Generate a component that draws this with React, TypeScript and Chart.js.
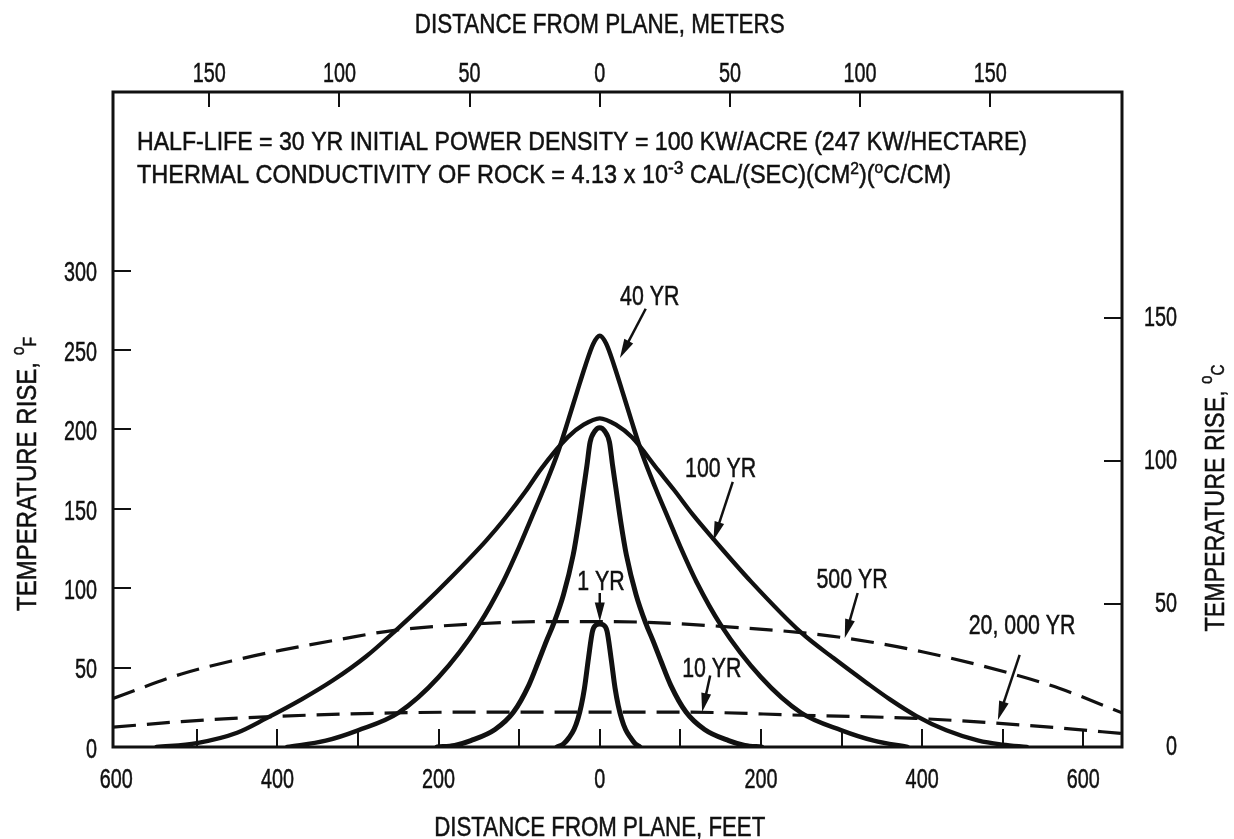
import React, { useEffect, useRef } from "react";
import { Chart, registerables } from "chart.js";

Chart.register(...registerables);

// ---- axis ranges / conversions ----
const FT_MIN = -604;
const FT_MAX = 648;
const DEGF_MAX = 412.5;
const FT_PER_M = 3.23;
const DEGF_PER_DEGC = 1.8;

// ---- tick values ----
const BOTTOM_TICKS_FT = [-500, -400, -300, -200, -100, 0, 100, 200, 300, 400, 500, 600];
const BOTTOM_LABELS_FT = [-600, -400, -200, 0, 200, 400, 600];
const TOP_TICKS_M = [-150, -100, -50, 0, 50, 100, 150];
const LEFT_TICKS_F = [50, 100, 150, 200, 250, 300];
const LEFT_LABELS_F = [0, 50, 100, 150, 200, 250, 300];
const RIGHT_TICKS_C = [50, 100, 150];
const RIGHT_LABELS_C = [0, 50, 100, 150];

// ---- series: distance from plane (ft) and temperature rise (deg F) ----
const YR1_FT = [-53, -45, -38, -32, -27, -23, -19, -14, -9, -4, 0, 4, 9, 14, 19, 23, 27, 32, 38, 44, 50];
const YR1_F = [0, 2, 6, 11, 18, 26, 37, 56, 73, 77, 77.5, 77, 73, 56, 37, 26, 18, 11, 6, 2, 0];

const YR10_FT = [-202, -180, -160, -130, -107, -88, -76, -66, -57, -45, -33, -26, -20, -16, -12, -6, 0, 6, 12, 16, 20, 26, 33, 45, 57, 66, 76, 88, 107, 130, 160, 180, 201];
const YR10_F = [0, 1, 4, 11, 22, 39, 54, 67, 78, 96, 121, 142, 163, 177, 192, 199, 201, 199, 192, 177, 163, 142, 121, 96, 78, 67, 54, 39, 22, 11, 4, 1, 0];

const YR40_FT = [-388, -340, -300, -250, -200, -150, -120, -100, -85, -70, -53, -39, -28, -18, -8, 0, 8, 18, 28, 39, 53, 70, 85, 100, 120, 150, 200, 250, 300, 340, 382];
const YR40_F = [0, 4, 10.5, 21.5, 44, 77, 104, 126, 144, 162, 184, 206, 224, 240, 254, 259, 254, 240, 224, 206, 184, 162, 144, 126, 104, 77, 44, 21.5, 10.5, 4, 0];

const YR100_FT = [-550, -500, -450, -414, -370, -331, -290, -254, -220, -188, -141, -116, -92, -73, -40, -20, 0, 20, 40, 73, 92, 116, 141, 188, 250, 290, 331, 360, 393, 430, 470, 500, 530];
const YR100_F = [0, 2.5, 9, 18, 30, 42, 57, 73, 89, 105, 130, 145, 161, 175, 195, 203, 207, 203, 195, 174, 162, 146, 131, 104, 72, 56, 40.5, 30, 19.5, 10.5, 4, 1.5, 0];

const YR500_FT = [-604, -519, -450, -395, -320, -255, -155, -60, 0, 60, 150, 250, 307, 400, 505, 570, 648];
const YR500_F = [30.5, 46, 55, 61, 68, 73.5, 77.5, 79, 79, 78.5, 76, 72, 68.5, 60, 47, 37, 21.5];

const YR20K_FT = [-604, -519, -415, -255, -100, 0, 100, 250, 393, 492, 570, 648];
const YR20K_F = [12.5, 16, 19, 21.5, 22, 22, 22, 20, 18, 15, 12, 8.5];

// ---- curve labels and arrows (data units: ft, deg F) ----
const CURVE_LABELS = ["1 YR", "10 YR", "40 YR", "100 YR", "500 YR", "20, 000 YR"];
const LABEL_FT = [1.5, 139, 62, 150, 313, 524];
const LABEL_F = [105, 50, 284.5, 176, 106, 77.4];
const ARROW_FROM_FT = [0, 137, 57, 165, 320, 521];
const ARROW_FROM_F = [97, 45, 276, 167, 97, 58];
const ARROW_TO_FT = [0, 127, 25, 141, 304, 494];
const ARROW_TO_F = [79, 22, 245, 130, 68.6, 17];

const INK = "#111";
const FONT_FAMILY = "'Liberation Sans', Arial, sans-serif";
const font = (size: number) => `${size}px ${FONT_FAMILY}`;

type Seg = { t: string; size: number; dy?: number };

function drawRich(
  ctx: CanvasRenderingContext2D,
  segs: Seg[],
  x: number,
  y: number,
  align: "left" | "center" | "right",
  opt: { sx?: number; width?: number },
  rot = 0
) {
  ctx.save();
  let natural = 0;
  const widths = segs.map((s) => {
    ctx.font = font(s.size);
    const w = ctx.measureText(s.t).width;
    natural += w;
    return w;
  });
  const sx = opt.width ? opt.width / natural : opt.sx ?? 1;
  const total = natural * sx;
  const main = Math.max(...segs.map((s) => s.size));
  ctx.translate(x, y);
  if (rot) ctx.rotate(rot);
  const x0 = align === "center" ? -total / 2 : align === "right" ? -total : 0;
  ctx.translate(x0, main * 0.358);
  ctx.scale(sx, 1);
  ctx.textAlign = "left";
  ctx.textBaseline = "alphabetic";
  ctx.fillStyle = INK;
  ctx.strokeStyle = INK;
  ctx.lineWidth = 0.5;
  let cx = 0;
  segs.forEach((s, i) => {
    ctx.font = font(s.size);
    ctx.fillText(s.t, cx, s.dy ?? 0);
    ctx.strokeText(s.t, cx, s.dy ?? 0);
    cx += widths[i];
  });
  ctx.restore();
}

function drawArrow(ctx: CanvasRenderingContext2D, x1: number, y1: number, x2: number, y2: number) {
  const ang = Math.atan2(y2 - y1, x2 - x1);
  const headLen = 19;
  const headHalf = 5;
  const bx = x2 - headLen * Math.cos(ang);
  const by = y2 - headLen * Math.sin(ang);
  ctx.save();
  ctx.strokeStyle = INK;
  ctx.fillStyle = INK;
  ctx.lineWidth = 2.5;
  ctx.beginPath();
  ctx.moveTo(x1, y1);
  ctx.lineTo(bx + 4 * Math.cos(ang), by + 4 * Math.sin(ang));
  ctx.stroke();
  ctx.beginPath();
  ctx.moveTo(x2, y2);
  ctx.lineTo(bx + headHalf * Math.sin(ang), by - headHalf * Math.cos(ang));
  ctx.lineTo(bx - headHalf * Math.sin(ang), by + headHalf * Math.cos(ang));
  ctx.closePath();
  ctx.fill();
  ctx.restore();
}

const paperPlugin = {
  id: "paperAxes",
  afterDraw(chart: any) {
    const { ctx, chartArea: a } = chart;
    const xs = chart.scales.x;
    const ys = chart.scales.y;
    ctx.save();

    // frame
    ctx.strokeStyle = INK;
    ctx.lineWidth = 3;
    ctx.strokeRect(a.left, a.top, a.right - a.left, a.bottom - a.top);

    // inward ticks
    ctx.lineWidth = 2;
    ctx.beginPath();
    BOTTOM_TICKS_FT.forEach((t) => {
      const px = Math.round(xs.getPixelForValue(t));
      ctx.moveTo(px, a.bottom);
      ctx.lineTo(px, a.bottom - 18);
    });
    TOP_TICKS_M.forEach((m) => {
      const px = Math.round(xs.getPixelForValue(m * FT_PER_M));
      ctx.moveTo(px, a.top);
      ctx.lineTo(px, a.top + 15);
    });
    LEFT_TICKS_F.forEach((f) => {
      const py = Math.round(ys.getPixelForValue(f));
      ctx.moveTo(a.left, py);
      ctx.lineTo(a.left + 18, py);
    });
    RIGHT_TICKS_C.forEach((c) => {
      const py = Math.round(ys.getPixelForValue(c * DEGF_PER_DEGC));
      ctx.moveTo(a.right, py);
      ctx.lineTo(a.right - 18, py);
    });
    ctx.stroke();

    // tick labels
    const digitSx = 0.72;
    const digitSize = 27.5;
    BOTTOM_LABELS_FT.forEach((t) => {
      drawRich(ctx, [{ t: String(Math.abs(t)), size: digitSize }], xs.getPixelForValue(t), a.bottom + 31, "center", { sx: digitSx });
    });
    TOP_TICKS_M.forEach((m) => {
      drawRich(ctx, [{ t: String(Math.abs(m)), size: digitSize }], xs.getPixelForValue(m * FT_PER_M), a.top - 20, "center", { sx: digitSx });
    });
    LEFT_LABELS_F.forEach((f) => {
      drawRich(ctx, [{ t: String(f), size: digitSize }], a.left - 16, ys.getPixelForValue(f) + 1, "right", { sx: digitSx });
    });
    RIGHT_LABELS_C.forEach((c) => {
      drawRich(ctx, [{ t: String(c), size: digitSize }], a.right + 55, ys.getPixelForValue(c * DEGF_PER_DEGC) - 2, "right", { sx: digitSx });
    });

    // axis titles
    const x0 = xs.getPixelForValue(0);
    drawRich(ctx, [{ t: "DISTANCE FROM PLANE, METERS", size: 27.5 }], x0, 23, "center", { width: 370 });
    drawRich(ctx, [{ t: "DISTANCE FROM PLANE, FEET", size: 27.5 }], x0, a.bottom + 79, "center", { width: 331 });
    drawRich(
      ctx,
      [
        { t: "TEMPERATURE RISE, ", size: 27.5 },
        { t: "o", size: 18, dy: -12 },
        { t: "F", size: 18 },
      ],
      26,
      474,
      "center",
      { width: 274 },
      -Math.PI / 2
    );
    drawRich(
      ctx,
      [
        { t: "TEMPERATURE RISE, ", size: 27.5 },
        { t: "o", size: 18, dy: -12 },
        { t: "C", size: 18 },
      ],
      1214,
      498,
      "center",
      { width: 267 },
      -Math.PI / 2
    );

    // annotation text
    drawRich(
      ctx,
      [{ t: "HALF-LIFE = 30 YR INITIAL POWER DENSITY = 100 KW/ACRE (247 KW/HECTARE)", size: 25.5 }],
      a.left + 24,
      141,
      "left",
      { width: 890 }
    );
    drawRich(
      ctx,
      [
        { t: "THERMAL CONDUCTIVITY OF ROCK = 4.13 x 10", size: 25.5 },
        { t: "-3", size: 19, dy: -9 },
        { t: " CAL/(SEC)(CM", size: 25.5 },
        { t: "2", size: 17, dy: -9 },
        { t: ")(", size: 25.5 },
        { t: "o", size: 17, dy: -10 },
        { t: "C/CM)", size: 25.5 },
      ],
      a.left + 24,
      173.5,
      "left",
      { width: 814 }
    );

    // curve labels with arrows
    CURVE_LABELS.forEach((lab, i) => {
      drawRich(ctx, [{ t: lab, size: 27 }], xs.getPixelForValue(LABEL_FT[i]), ys.getPixelForValue(LABEL_F[i]), "center", { sx: 0.79 });
      drawArrow(
        ctx,
        xs.getPixelForValue(ARROW_FROM_FT[i]),
        ys.getPixelForValue(ARROW_FROM_F[i]),
        xs.getPixelForValue(ARROW_TO_FT[i]),
        ys.getPixelForValue(ARROW_TO_F[i])
      );
    });

    ctx.restore();
  },
};

const pts = (xv: number[], yv: number[]) => xv.map((x, i) => ({ x, y: yv[i] }));

const solid = (label: string, xv: number[], yv: number[], w: number) => ({
  label,
  data: pts(xv, yv),
  borderColor: INK,
  borderWidth: w,
  pointRadius: 0,
  fill: false,
  cubicInterpolationMode: "monotone" as const,
  borderJoinStyle: "round" as const,
  borderCapStyle: "round" as const,
});

const dashed = (label: string, xv: number[], yv: number[]) => ({
  label,
  data: pts(xv, yv),
  borderColor: INK,
  borderWidth: 3.2,
  borderDash: [23, 11],
  pointRadius: 0,
  fill: false,
  cubicInterpolationMode: "monotone" as const,
});

export default function App() {
  const ref = useRef<HTMLCanvasElement | null>(null);

  useEffect(() => {
    if (!ref.current) return;
    const chart = new Chart(ref.current, {
      type: "line",
      data: {
        datasets: [
          solid("1 YR", YR1_FT, YR1_F, 5),
          solid("10 YR", YR10_FT, YR10_F, 5),
          solid("40 YR", YR40_FT, YR40_F, 4.5),
          solid("100 YR", YR100_FT, YR100_F, 4.3),
          dashed("500 YR", YR500_FT, YR500_F),
          dashed("20,000 YR", YR20K_FT, YR20K_F),
        ],
      },
      options: {
        animation: false,
        responsive: false,
        devicePixelRatio: 1,
        layout: { padding: { left: 113, right: 112, top: 92, bottom: 92 } },
        plugins: { legend: { display: false }, tooltip: { enabled: false }, title: { display: false } },
        events: [],
        scales: {
          x: { type: "linear", min: FT_MIN, max: FT_MAX, display: false },
          y: { type: "linear", min: 0, max: DEGF_MAX, display: false },
        },
      },
      plugins: [paperPlugin],
    });
    return () => chart.destroy();
  }, []);

  return (
    <div style={{ position: "absolute", left: 0, top: 0, width: 1234, height: 839, background: "#fff" }}>
      <canvas ref={ref} width={1234} height={839} style={{ display: "block" }} />
    </div>
  );
}
